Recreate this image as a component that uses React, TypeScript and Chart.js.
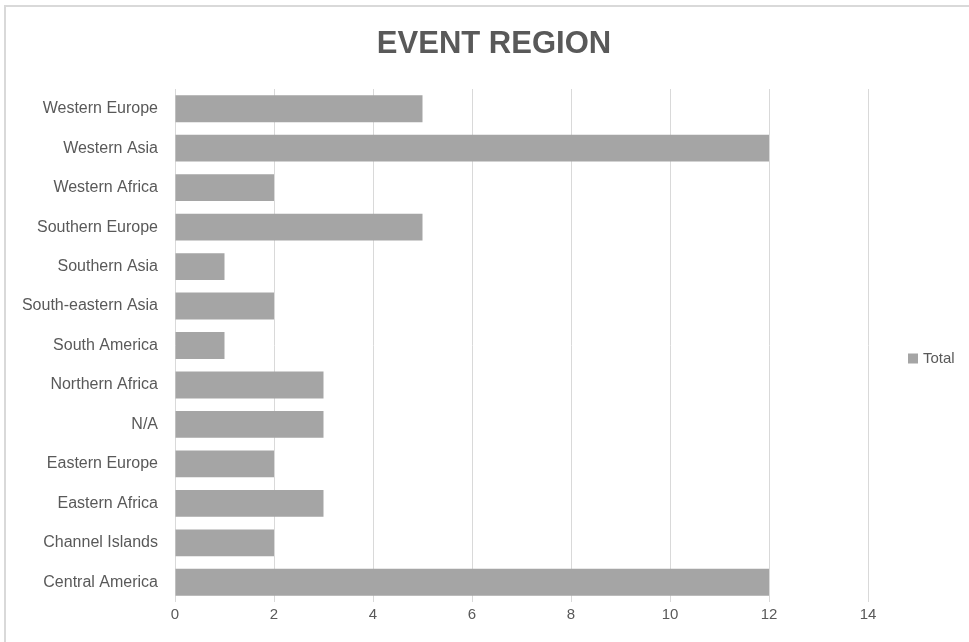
import { useEffect, useRef } from "react";
import { Chart, registerables } from "chart.js";
Chart.register(...registerables);

const categories = [
  "Western Europe",
  "Western Asia",
  "Western Africa",
  "Southern Europe",
  "Southern Asia",
  "South-eastern Asia",
  "South America",
  "Northern Africa",
  "N/A",
  "Eastern Europe",
  "Eastern Africa",
  "Channel Islands",
  "Central America",
];
const totals = [5, 12, 2, 5, 1, 2, 1, 3, 3, 2, 3, 2, 12];
const seriesName = "Total";
const chartTitle = "EVENT REGION";
const xMin = 0;
const xMax = 14;
const xStep = 2;

const FONT = "'Liberation Sans', Arial, sans-serif";
const TEXT = "#595959";
const BAR = "#a5a5a5";

const decorations = {
  id: "decorations",
  afterDraw(chart: any) {
    const { ctx, chartArea } = chart;
    const ds = chart.data.datasets[0];
    ctx.save();
    // title, centred over the plot area plus the legend column
    ctx.fillStyle = TEXT;
    ctx.font = `bold 31px ${FONT}`;
    ctx.textAlign = "center";
    ctx.textBaseline = "middle";
    ctx.fillText(chartTitle, (chartArea.left * 0.0 + chartArea.right + 120) / 2, chartArea.top - 45);
    // legend to the right
    const x = chartArea.right + 40;
    const y = (chartArea.top + chartArea.bottom) / 2 + 13;
    ctx.fillStyle = ds.backgroundColor;
    ctx.fillRect(x, y - 5, 10, 10);
    ctx.fillStyle = TEXT;
    ctx.font = `15px ${FONT}`;
    ctx.textAlign = "left";
    ctx.fillText(ds.label, x + 15, y);
    ctx.restore();
  },
};

export default function App() {
  const ref = useRef<HTMLCanvasElement>(null);
  useEffect(() => {
    const chart = new Chart(ref.current!, {
      type: "bar",
      data: {
        labels: categories,
        datasets: [
          {
            label: seriesName,
            data: totals,
            backgroundColor: BAR,
            borderWidth: 0,
            barPercentage: 0.68,
            categoryPercentage: 1,
          },
        ],
      },
      plugins: [decorations],
      options: {
        indexAxis: "y",
        responsive: false,
        animation: false,
        layout: { padding: { left: 0, right: 101, top: 89, bottom: 14 } },
        plugins: {
          title: { display: false },
          legend: { display: false },
          tooltip: { enabled: false },
        },
        scales: {
          x: {
            min: xMin,
            max: xMax,
            ticks: {
              stepSize: xStep,
              color: TEXT,
              font: { family: FONT, size: 15 },
              padding: 4,
            },
            grid: { color: "#d9d9d9", drawTicks: false },
            border: { display: false },
          },
          y: {
            ticks: {
              color: TEXT,
              font: { family: FONT, size: 16 },
              padding: 17,
            },
            grid: { display: false, drawTicks: false },
            border: { display: false },
            afterFit: (s: any) => {
              s.width = 175;
            },
          },
        },
      },
    });
    return () => chart.destroy();
  }, []);
  return (
    <div style={{ position: "absolute", left: 0, top: 0, width: 969, height: 642, background: "#fff", overflow: "hidden" }}>
      <div
        style={{
          position: "absolute",
          left: 4,
          top: 5,
          width: 980,
          height: 660,
          borderLeft: "2px solid #d9d9d9",
          borderTop: "2px solid #d9d9d9",
        }}
      />
      <canvas ref={ref} width={969} height={642} style={{ position: "absolute", left: 0, top: 0 }} />
    </div>
  );
}
